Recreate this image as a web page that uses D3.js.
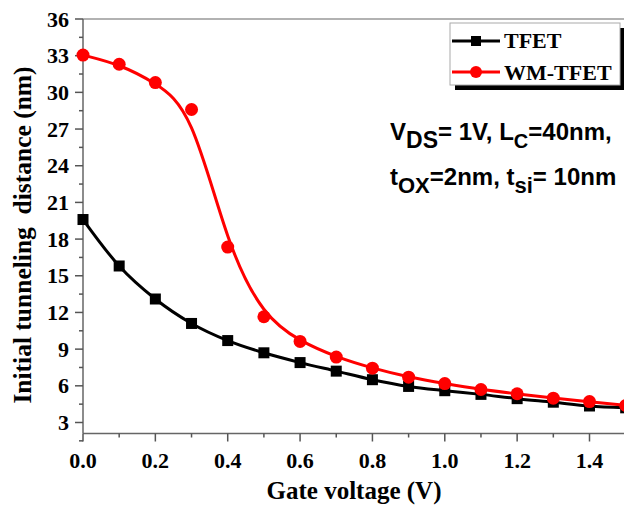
<!DOCTYPE html>
<html>
<head>
<meta charset="utf-8">
<script src="https://cdn.jsdelivr.net/npm/d3@7"></script>
<style>
  body { margin: 0; background: #fff; }
  svg { display: block; }
</style>
</head>
<body>
<div id="chart"></div>
<script>
// chart data
var gateVoltage = [0.0, 0.1, 0.2, 0.3, 0.4, 0.5, 0.6, 0.7, 0.8, 0.9, 1.0, 1.1, 1.2, 1.3, 1.4, 1.5];
var tfet   = [19.6, 15.8, 13.1, 11.1, 9.7, 8.7, 7.9, 7.2, 6.5, 5.95, 5.6, 5.3, 4.95, 4.66, 4.35, 4.2];
var wmTfet = [33.05, 32.3, 30.8, 28.6, 17.35, 11.65, 9.63, 8.35, 7.44, 6.71, 6.18, 5.7, 5.35, 4.99, 4.71, 4.39];
var xTicks = [0.0, 0.2, 0.4, 0.6, 0.8, 1.0, 1.2, 1.4];
var yTicks = [3, 6, 9, 12, 15, 18, 21, 24, 27, 30, 33, 36];
var seriesNames = ["TFET", "WM-TFET"];

var width = 624;
var height = 505;
var serif = "'Liberation Serif', 'Times New Roman', serif";
var sans = "'Liberation Sans', Arial, sans-serif";

var svg = d3.select("#chart").append("svg")
    .attr("width", width)
    .attr("height", height);

var x = d3.scaleLinear().domain([0, 1.4]).range([83, 589.5]);
var y = d3.scaleLinear().domain([2.1, 36]).range([433.5, 19]);

// top frame line
svg.append("line")
    .attr("x1", x(0)).attr("x2", width)
    .attr("y1", y(36)).attr("y2", y(36))
    .attr("stroke", "#999").attr("stroke-width", 1.5);

// x axis
var xAxis = svg.append("g")
    .attr("transform", "translate(0," + y(2.1) + ")");
xAxis.append("line")
    .attr("x1", x(0)).attr("x2", width)
    .attr("stroke", "#666").attr("stroke-width", 1.5);
xAxis.selectAll(".major").data(xTicks).enter().append("line")
    .attr("x1", function(d) { return x(d); }).attr("x2", function(d) { return x(d); })
    .attr("y1", 0).attr("y2", 8)
    .attr("stroke", "#555").attr("stroke-width", 1.5);
xAxis.selectAll(".minor").data(xTicks.map(function(d) { return d + 0.1; })).enter().append("line")
    .attr("x1", function(d) { return x(d); }).attr("x2", function(d) { return x(d); })
    .attr("y1", 0).attr("y2", 4)
    .attr("stroke", "#555").attr("stroke-width", 1.5);
xAxis.selectAll("text").data(xTicks).enter().append("text")
    .attr("x", function(d) { return x(d); })
    .attr("y", 34)
    .attr("text-anchor", "middle")
    .attr("font-family", serif).attr("font-weight", "bold").attr("font-size", "22px")
    .text(function(d) { return d3.format(".1f")(d); });

// y axis
var yAxis = svg.append("g")
    .attr("transform", "translate(" + x(0) + ",0)");
yAxis.append("line")
    .attr("y1", y(36)).attr("y2", y(2.1))
    .attr("stroke", "#666").attr("stroke-width", 1.5);
yAxis.selectAll(".major").data(yTicks).enter().append("line")
    .attr("y1", function(d) { return y(d); }).attr("y2", function(d) { return y(d); })
    .attr("x1", 0).attr("x2", -8)
    .attr("stroke", "#555").attr("stroke-width", 1.5);
yAxis.selectAll(".minor").data(yTicks.map(function(d) { return d - 1.5; })).enter().append("line")
    .attr("y1", function(d) { return y(d); }).attr("y2", function(d) { return y(d); })
    .attr("x1", 0).attr("x2", -4)
    .attr("stroke", "#555").attr("stroke-width", 1.5);
yAxis.selectAll("text").data(yTicks).enter().append("text")
    .attr("x", -14)
    .attr("y", function(d) { return y(d) + 7.5; })
    .attr("text-anchor", "end")
    .attr("font-family", serif).attr("font-weight", "bold").attr("font-size", "22px")
    .text(function(d) { return d; });

// axis titles
svg.append("text")
    .attr("x", 354).attr("y", 499)
    .attr("text-anchor", "middle")
    .attr("font-family", serif).attr("font-weight", "bold").attr("font-size", "25px")
    .text("Gate voltage (V)");
svg.append("text")
    .attr("transform", "translate(31,235) rotate(-90)")
    .attr("text-anchor", "middle")
    .attr("font-family", serif).attr("font-weight", "bold").attr("font-size", "25.5px")
    .attr("xml:space", "preserve")
    .style("white-space", "pre")
    .text("Initial tunneling  distance (nm)");

// series
var tfetPts = gateVoltage.map(function(v, i) { return [v, tfet[i]]; });
var wmPts = gateVoltage.map(function(v, i) { return [v, wmTfet[i]]; });

var lineSmooth = d3.line()
    .x(function(d) { return x(d[0]); })
    .y(function(d) { return y(d[1]); })
    .curve(d3.curveMonotoneX);
var lineFit = d3.line()
    .x(function(d) { return x(d[0]); })
    .y(function(d) { return y(d[1]); })
    .curve(d3.curveBasis);

svg.append("path")
    .attr("d", lineSmooth(tfetPts))
    .attr("fill", "none").attr("stroke", "#000").attr("stroke-width", 3);
svg.selectAll(".sq").data(tfetPts).enter().append("rect")
    .attr("x", function(d) { return x(d[0]) - 5.5; })
    .attr("y", function(d) { return y(d[1]) - 5.5; })
    .attr("width", 11).attr("height", 11)
    .attr("fill", "#000");

svg.append("path")
    .attr("d", lineFit(wmPts))
    .attr("fill", "none").attr("stroke", "#ff0000").attr("stroke-width", 3);
svg.selectAll(".dot").data(wmPts).enter().append("circle")
    .attr("cx", function(d) { return x(d[0]); })
    .attr("cy", function(d) { return y(d[1]); })
    .attr("r", 6.5)
    .attr("fill", "#ff0000");

// legend
var legend = svg.append("g");
legend.append("rect")
    .attr("x", 455).attr("y", 28).attr("width", 170).attr("height", 62)
    .attr("fill", "#000");
legend.append("rect")
    .attr("x", 450).attr("y", 23).attr("width", 170).attr("height", 62)
    .attr("fill", "#fff").attr("stroke", "#aaa").attr("stroke-width", 1);
legend.append("line")
    .attr("x1", 452).attr("x2", 500).attr("y1", 41).attr("y2", 41)
    .attr("stroke", "#000").attr("stroke-width", 3);
legend.append("rect")
    .attr("x", 471).attr("y", 36).attr("width", 10).attr("height", 10)
    .attr("fill", "#000");
legend.append("line")
    .attr("x1", 452).attr("x2", 500).attr("y1", 72).attr("y2", 72)
    .attr("stroke", "#ff0000").attr("stroke-width", 3);
legend.append("circle")
    .attr("cx", 476).attr("cy", 72).attr("r", 6)
    .attr("fill", "#ff0000");
legend.selectAll("text").data(seriesNames).enter().append("text")
    .attr("x", 504)
    .attr("y", function(d, i) { return 48 + i * 32; })
    .attr("font-family", serif).attr("font-weight", "bold").attr("font-size", "22px")
    .text(function(d) { return d; });

// annotation
var note = svg.append("g")
    .attr("font-family", sans).attr("font-weight", "bold").attr("font-size", "24px")
    .attr("fill", "#000");
var l1 = note.append("text").attr("x", 390).attr("y", 140);
l1.append("tspan").text("V");
l1.append("tspan").attr("dy", 8).attr("font-size", "23px").text("DS");
l1.append("tspan").attr("dy", -8).text("= 1V, L");
l1.append("tspan").attr("dy", 8).attr("font-size", "20px").text("C");
l1.append("tspan").attr("dy", -8).text("=40nm,");
var l2 = note.append("text").attr("x", 390).attr("y", 185);
l2.append("tspan").text("t");
l2.append("tspan").attr("dy", 8).attr("font-size", "22px").text("OX");
l2.append("tspan").attr("dy", -8).text("=2nm, t");
l2.append("tspan").attr("dy", 8).attr("font-size", "22px").text("si");
l2.append("tspan").attr("dy", -8).text("= 10nm");
</script>
</body>
</html>
